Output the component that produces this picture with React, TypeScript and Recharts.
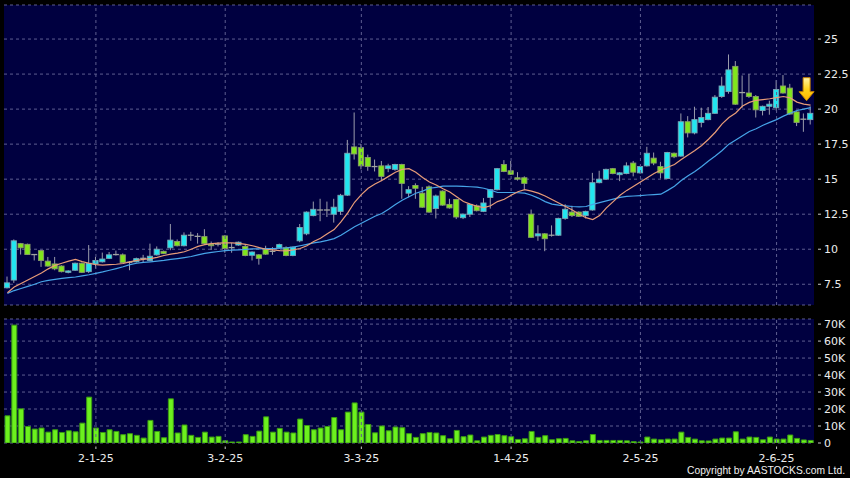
import React from 'react';
import { ComposedChart, BarChart, Bar, Line, XAxis, YAxis, CartesianGrid, ReferenceLine, ReferenceDot } from 'recharts';

const openP = [7.25,7.8,10.4,10.35,9.62,9.9,9.15,8.95,8.8,8.35,8.5,9.0,8.4,8.95,9.1,9.35,9.62,9.6,9.07,9.1,9.3,9.2,9.6,9.85,
10.1,10.55,10.25,11.0,10.92,10.9,10.36,10.36,10.95,10.12,10.3,10.2,9.57,9.6,10.0,9.85,10.1,10.1,9.55,10.6,11.1,12.4,12.8,12.8,12.5,12.7,
13.86,17.3,17.25,16.55,15.9,15.95,15.75,15.7,16.05,14.0,14.55,14.0,14.45,12.9,14.15,13.2,13.55,12.25,12.5,13.1,12.7,13.7,14.25,16.05,15.6,15.1,15.1,
12.5,10.95,11.1,10.98,11.0,12.2,12.65,12.65,12.4,12.8,14.75,15.0,15.75,15.32,15.4,16.15,15.45,15.95,16.5,15.9,15.05,16.85,16.65,19.1,18.3,19.05,19.25,
19.7,20.9,21.25,23.05,21.18,21.15,20.9,19.9,20.2,20.1,21.65,21.5,19.8,19.25,19.25];
const highP = [8.05,10.7,10.45,10.4,9.65,9.95,9.45,9.45,8.85,8.5,9.05,9.05,10.3,9.45,9.76,9.8,9.9,9.7,9.15,9.4,9.6,10.4,10.2,9.9,
11.8,10.7,11.2,11.24,11.15,11.43,10.55,10.5,11.0,10.45,10.55,10.35,9.85,9.65,10.25,10.15,10.4,10.2,10.2,11.8,12.7,13.4,13.6,13.4,13.6,13.95,
17.8,19.76,17.5,16.75,16.4,16.3,16.1,16.1,16.1,14.5,14.7,14.45,14.55,13.9,14.2,13.6,13.6,12.55,13.25,13.2,13.65,14.3,15.8,16.36,16.3,15.5,15.2,
12.83,11.71,11.15,11.7,12.25,13.21,13.1,12.7,12.75,15.45,15.6,15.75,15.8,15.5,16.2,16.3,15.95,17.31,16.9,16.24,16.95,16.9,19.69,19.5,20.17,20.1,20.15,
21.0,22.31,23.9,23.43,22.4,22.5,21.0,20.25,20.6,22.07,22.43,21.8,19.85,19.69,20.2];
const lowP = [7.2,7.6,9.62,9.6,9.2,8.74,8.75,8.5,8.35,8.28,8.45,8.3,8.3,8.62,9.05,9.3,9.55,9.0,8.5,9.05,9.05,9.15,9.55,9.65,
9.93,10.2,10.2,10.6,10.4,10.35,9.95,10.2,9.75,9.75,10.25,9.5,9.2,8.9,9.6,9.6,10.05,9.5,9.5,10.5,11.0,12.35,12.0,12.3,11.9,12.45,
13.8,16.4,15.7,15.6,15.55,14.86,15.5,15.6,13.6,13.7,13.6,12.95,12.6,12.19,13.1,12.9,12.15,12.15,12.3,12.7,12.65,12.9,14.2,15.5,15.3,14.9,14.26,
10.8,10.6,9.86,10.9,10.95,12.1,12.3,12.3,12.2,12.75,14.7,14.95,15.35,14.86,15.35,15.2,15.4,15.9,16.0,15.05,15.0,16.5,16.6,17.98,18.2,18.7,19.2,
19.65,20.8,21.1,20.3,20.1,20.8,19.4,19.55,19.6,19.9,21.1,19.6,18.79,18.38,18.9];
const closeP = [7.6,10.6,10.1,9.62,9.6,9.2,8.8,8.6,8.4,8.45,9.0,8.35,9.0,9.2,9.3,9.6,9.6,9.05,9.05,9.33,9.35,9.5,10.0,9.7,
10.65,10.25,11.0,10.98,10.9,10.4,10.25,10.35,10.05,10.1,10.5,9.55,9.8,9.35,9.65,9.82,10.33,9.55,10.15,11.55,12.65,12.85,12.78,12.8,13.0,13.85,
16.85,16.8,15.95,15.9,15.88,15.2,15.95,16.05,14.7,14.25,14.35,13.0,12.65,13.8,13.15,12.95,12.3,12.5,13.2,12.75,13.3,14.25,15.75,15.55,15.35,15.0,14.7,
10.85,11.1,10.75,11.0,12.2,12.85,12.4,12.35,12.7,14.75,15.0,15.7,15.4,15.45,15.95,15.5,15.9,16.85,16.15,15.45,16.9,16.6,19.1,18.3,19.25,19.4,19.7,
20.85,21.65,22.8,20.35,21.15,20.9,19.95,20.2,20.35,21.4,21.15,19.65,19.05,19.28,19.7];
const ma10 = [6.9,7.3,7.55,7.8,8.05,8.3,8.6,8.85,9.0,9.15,9.28,9.12,9.0,8.9,8.86,8.9,8.93,8.98,9.1,9.2,9.28,9.33,9.42,9.55,
9.65,9.72,9.82,10.0,10.2,10.33,10.4,10.43,10.45,10.45,10.42,10.35,10.25,10.12,10.0,9.95,9.9,9.88,9.95,10.05,10.25,10.55,10.78,11.1,11.4,11.95,
12.6,13.35,13.9,14.35,14.65,14.9,15.2,15.5,15.7,15.75,15.5,15.12,14.8,14.58,14.32,14.08,13.75,13.4,13.22,13.07,12.97,13.1,13.4,13.57,13.85,14.1,14.25,
14.15,14.0,13.8,13.55,13.3,13.05,12.8,12.5,12.25,12.12,12.4,12.95,13.4,13.85,14.2,14.5,14.8,15.1,15.4,15.65,15.85,16.05,16.4,16.72,17.05,17.4,17.85,
18.35,18.95,19.4,19.72,20.22,20.48,20.63,20.68,20.74,20.82,20.9,20.8,20.5,20.36,20.28];
const ma20 = [6.85,7.05,7.2,7.35,7.5,7.68,7.78,7.85,7.92,7.97,8.02,8.1,8.18,8.28,8.38,8.5,8.62,8.75,8.9,9.0,9.06,9.1,9.15,9.2,
9.27,9.33,9.4,9.48,9.6,9.7,9.77,9.84,9.9,9.93,9.96,9.99,10.02,10.03,10.04,10.05,10.07,10.1,10.15,10.25,10.35,10.45,10.52,10.63,10.76,11.0,
11.3,11.6,11.85,12.1,12.35,12.55,12.85,13.2,13.5,13.75,14.0,14.15,14.35,14.42,14.5,14.5,14.5,14.48,14.46,14.43,14.35,14.22,14.05,14.05,14.05,14.03,14.0,
13.85,13.65,13.4,13.22,13.15,13.1,13.05,13.02,13.05,13.2,13.33,13.45,13.58,13.7,13.77,13.8,13.83,13.87,13.9,13.93,14.2,14.5,14.9,15.25,15.55,15.9,16.3,
16.65,17.05,17.5,17.8,18.1,18.4,18.6,18.85,19.05,19.25,19.5,19.7,19.9,20.0,20.1];
const volumeK = [16.0,69.4,20.1,9.7,8.2,8.8,6.4,7.8,6.2,7.2,6.6,11.7,27.0,8.8,6.2,7.8,6.8,4.9,5.5,4.5,2.9,13.3,6.8,3.1,
26.0,5.9,10.6,4.5,3.3,6.4,3.5,3.9,1.3,0.6,0.6,4.9,3.9,7.0,15.4,6.4,8.6,6.4,5.9,14.1,10.3,7.8,8.8,9.7,15.0,7.8,
18.2,23.6,18.2,10.9,6.0,10.0,7.2,9.4,9.0,5.5,3.3,5.5,6.2,5.9,4.3,2.5,7.4,3.7,4.7,1.3,3.5,4.5,5.0,4.3,3.7,2.1,2.5,
6.8,3.3,4.3,1.9,2.5,2.7,1.3,0.9,1.3,5.0,1.5,1.5,1.5,1.5,1.3,0.8,0.6,3.5,2.3,1.9,2.3,2.3,6.4,3.3,2.3,1.3,1.2,
2.3,2.9,2.9,6.6,2.3,3.5,3.3,1.9,3.5,2.3,2.3,4.7,2.7,1.8,1.5];

const tickIdx = [13, 32, 52, 74, 93, 113];
const tickLabels = ['2-1-25', '3-2-25', '3-3-25', '1-4-25', '2-5-25', '2-6-25'];
const priceTicks = [7.5, 10, 12.5, 15, 17.5, 20, 22.5, 25];
const volTicks = [0, 10000, 20000, 30000, 40000, 50000, 60000, 70000];

const data = openP.map((o, i) => ({
  i,
  o,
  h: highP[i],
  l: lowP[i],
  c: closeP[i],
  hl: [lowP[i], highP[i]],
  ma10: ma10[i],
  ma20: ma20[i],
  vol: Math.round(volumeK[i] * 1000),
}));

const FONT = 'DejaVu Sans, Verdana, sans-serif';
const GRID = '#5e5e90';
const PANEL = '#000040';

const Candle = (props: any) => {
  const { x, y, width, height, payload } = props;
  if (!payload || height == null) return null;
  const { o, c, h, l } = payload;
  const span = h - l || 1;
  const py = (v: number) => y + ((h - v) / span) * height;
  const cx = x + width / 2;
  const up = c > o;
  const top = py(Math.max(o, c));
  const bot = py(Math.min(o, c));
  const bh = bot - top;
  return (
    <g>
      <line x1={cx} x2={cx} y1={y} y2={y + height} stroke="#9a9cab" strokeWidth={1} />
      {bh < 1 ? (
        <line x1={cx - 3} x2={cx + 3} y1={top} y2={top} stroke="#a0a4a0" strokeWidth={1.3} />
      ) : (
        <rect x={cx - 2.6} y={top} width={5.2} height={bh}
          fill={up ? '#22e6f0' : '#80e61c'} stroke={up ? '#7aa6b4' : '#8a9c6a'} strokeWidth={0.9} />
      )}
    </g>
  );
};

const Arrow = (props: any) => {
  const { cx, cy } = props;
  const x = cx - 4;
  const t = cy;
  return (
    <g>
      <defs>
        <linearGradient id="arrowGrad" x1="0" y1="0" x2="0" y2="1">
          <stop offset="0" stopColor="#fff4a8" />
          <stop offset="0.5" stopColor="#ffd21a" />
          <stop offset="1" stopColor="#ffb400" />
        </linearGradient>
      </defs>
      <path
        d={`M${x - 3.5},${t - 23} L${x + 3.5},${t - 23} L${x + 3.5},${t - 9} L${x + 7.5},${t - 9} L${x},${t} L${x - 7.5},${t - 9} L${x - 3.5},${t - 9} Z`}
        fill="url(#arrowGrad)" stroke="#c88400" strokeWidth={1}
      />
    </g>
  );
};

const RightTick = (fmt: (v: number) => string) => (props: any) => {
  const { x, y, payload } = props;
  return (
    <g>
      <line x1={x + 4} x2={x + 7} y1={y} y2={y} stroke="#c8c8c8" strokeWidth={1} />
      <text x={x + 10} y={y} dy="0.36em" fill="#ececec" fontSize={11} fontFamily={FONT}>{fmt(payload.value)}</text>
    </g>
  );
};

const BottomTick = (props: any) => {
  const { x, y, payload } = props;
  const k = tickIdx.indexOf(payload.value);
  return (
    <g>
      <line x1={x} x2={x} y1={y + 3.5} y2={y + 6} stroke="#c8c8c8" strokeWidth={1} />
      <text x={x} y={y + 18.5} textAnchor="middle" fill="#ececec" fontSize={11} fontFamily={FONT}>{k >= 0 ? tickLabels[k] : ''}</text>
    </g>
  );
};

export default function App() {
  return (
    <div style={{ position: 'absolute', left: 0, top: 0, width: 850, height: 478, background: '#000', overflow: 'hidden' }}>
      <div style={{ position: 'absolute', left: 0, top: 0 }}>
        <ComposedChart width={850} height={310} data={data} margin={{ top: 5, right: 0, bottom: 5, left: 4 }}>
          <CartesianGrid fill={PANEL} stroke={GRID} strokeDasharray="3 3" vertical={false} />
          <XAxis dataKey="i" type="category" hide />
          <YAxis orientation="right" width={36} domain={[6.02, 27.43]} ticks={priceTicks} interval={0} allowDataOverflow
            axisLine={false} tickLine={false} tickSize={0} tickMargin={0}
            tick={RightTick((v) => String(v))} />
          {tickIdx.map((t) => (
            <ReferenceLine key={t} x={t} stroke={GRID} strokeDasharray="3 3" />
          ))}
          <Bar dataKey="hl" shape={Candle} barSize={6} isAnimationActive={false} />
          <Line dataKey="ma20" type="linear" stroke="#46a4e8" strokeWidth={1.2} dot={false} isAnimationActive={false} />
          <Line dataKey="ma10" type="linear" stroke="#e89c78" strokeWidth={1.2} dot={false} isAnimationActive={false} />
          <ReferenceDot x={118} y={20.6} r={0} shape={Arrow} ifOverflow="visible" />
        </ComposedChart>
      </div>
      <div style={{ position: 'absolute', left: 0, top: 310 }}>
        <BarChart width={850} height={168} data={data} margin={{ top: 9, right: 0, bottom: 15, left: 4 }}>
          <CartesianGrid fill={PANEL} stroke={GRID} strokeDasharray="3 3" vertical={false} />
          <XAxis dataKey="i" type="category" ticks={tickIdx} interval={0} height={20}
            axisLine={false} tickLine={false} tickSize={0} tickMargin={0} tick={BottomTick} />
          <YAxis orientation="right" width={36} domain={[0, 73000]} ticks={volTicks} interval={0} allowDataOverflow
            axisLine={false} tickLine={false} tickSize={0} tickMargin={0}
            tick={RightTick((v) => (v === 0 ? '0' : `${v / 1000}K`))} />
          {tickIdx.map((t) => (
            <ReferenceLine key={t} x={t} stroke={GRID} strokeDasharray="3 3" />
          ))}
          <Bar dataKey="vol" fill="#6cf01e" stroke="#3a9a12" strokeWidth={1} barSize={5} isAnimationActive={false} />
        </BarChart>
      </div>
      <svg width={850} height={478} style={{ position: 'absolute', left: 0, top: 0, pointerEvents: 'none' }}>
        <text x={687} y={474} fill="#f0f0f0" fontSize={10.5} fontFamily="Liberation Sans, Arial, sans-serif" textLength={158} lengthAdjust="spacingAndGlyphs">Copyright by AASTOCKS.com Ltd.</text>
      </svg>
    </div>
  );
}
